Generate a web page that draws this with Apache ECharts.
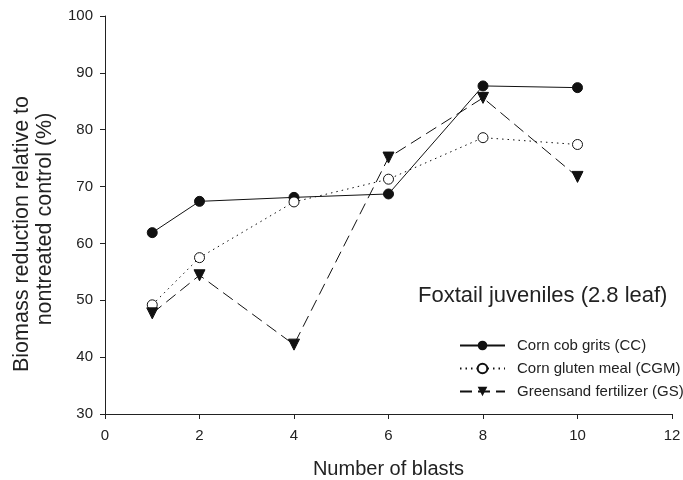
<!DOCTYPE html>
<html>
<head>
<meta charset="utf-8" />
<title>Foxtail juveniles</title>
<script src="https://cdn.jsdelivr.net/npm/echarts@6/dist/echarts.min.js"></script>
<style>
  html, body { margin: 0; padding: 0; background: #fff; }
  #chart { width: 683px; height: 480px; }
</style>
</head>
<body>
<div id="chart"></div>
<script>
// values
var blasts = [1, 2, 4, 6, 8, 10];
var ccVals = [61.9, 67.4, 68.1, 68.7, 87.7, 87.4];
var cgmVals = [49.2, 57.5, 67.3, 71.3, 78.6, 77.4];
var gsVals = [47.7, 54.4, 42.2, 75.1, 85.6, 71.7];
var seriesNames = ['Corn cob grits (CC)', 'Corn gluten meal (CGM)', 'Greensand fertilizer (GS)'];

function pairs(xs, ys) {
  return xs.map(function (x, i) { return [x, ys[i]]; });
}

var chart = echarts.init(document.getElementById('chart'));
var font = 'Arial, "Liberation Sans", sans-serif';

chart.setOption({
  animation: false,
  textStyle: { fontFamily: font },
  grid: { left: 105, right: 11, top: 16, bottom: 66, outerBoundsMode: 'none' },
  title: {
    text: 'Foxtail juveniles (2.8 leaf)',
    left: 413, top: 280,
    textStyle: { fontFamily: font, fontSize: 22, fontWeight: 'normal', color: '#222' }
  },
  legend: {
    orient: 'vertical',
    left: 454, top: 333,
    itemWidth: 45, itemHeight: 12, itemGap: 8,
    textStyle: { fontFamily: font, fontSize: 15, color: '#222', padding: [0, 0, 0, 7] },
    data: seriesNames
  },
  xAxis: {
    type: 'value', min: 0, max: 12, interval: 2,
    name: 'Number of blasts', nameLocation: 'middle', nameGap: 45,
    nameTextStyle: { fontSize: 20, color: '#222' },
    axisLine: { lineStyle: { color: '#222', width: 1 } },
    axisTick: { length: 5, lineStyle: { color: '#222' } },
    axisLabel: { fontSize: 15, color: '#222', margin: 14 },
    splitLine: { show: false }
  },
  yAxis: {
    type: 'value', min: 30, max: 100, interval: 10,
    name: '{a|Biomass reduction relative to}\n{b|nontreated control (%)}',
    nameLocation: 'middle', nameGap: 44, nameRotate: 90,
    nameTextStyle: {
      fontSize: 21.5, color: '#222', lineHeight: 23, padding: [0, 38, 0, 0],
      rich: {
        a: { fontSize: 21.5, color: '#222', lineHeight: 23 },
        b: { fontSize: 21.5, color: '#222', lineHeight: 23, padding: [0, 0, 0, 30] }
      }
    },
    axisLine: { show: true, lineStyle: { color: '#222', width: 1 } },
    axisTick: { show: true, length: 5, lineStyle: { color: '#222' } },
    axisLabel: { fontSize: 15, color: '#222', margin: 12 },
    splitLine: { show: false }
  },
  series: [
    {
      name: seriesNames[0], type: 'line', data: pairs(blasts, ccVals),
      symbol: 'circle', symbolSize: 10,
      itemStyle: { color: '#111', borderColor: '#111' },
      lineStyle: { color: '#111', width: 1, type: 'solid' }
    },
    {
      name: seriesNames[1], type: 'line', data: pairs(blasts, cgmVals),
      symbol: 'circle', symbolSize: 10,
      itemStyle: { color: '#fff', borderColor: '#111', borderWidth: 1 },
      lineStyle: { color: '#111', width: 1, type: [1.5, 4] }
    },
    {
      name: seriesNames[2], type: 'line', data: pairs(blasts, gsVals),
      symbol: 'triangle', symbolSize: 11, symbolRotate: 180,
      itemStyle: { color: '#111', borderColor: '#111' },
      lineStyle: { color: '#111', width: 1, type: [12, 6] }
    }
  ]
});
</script>
</body>
</html>
